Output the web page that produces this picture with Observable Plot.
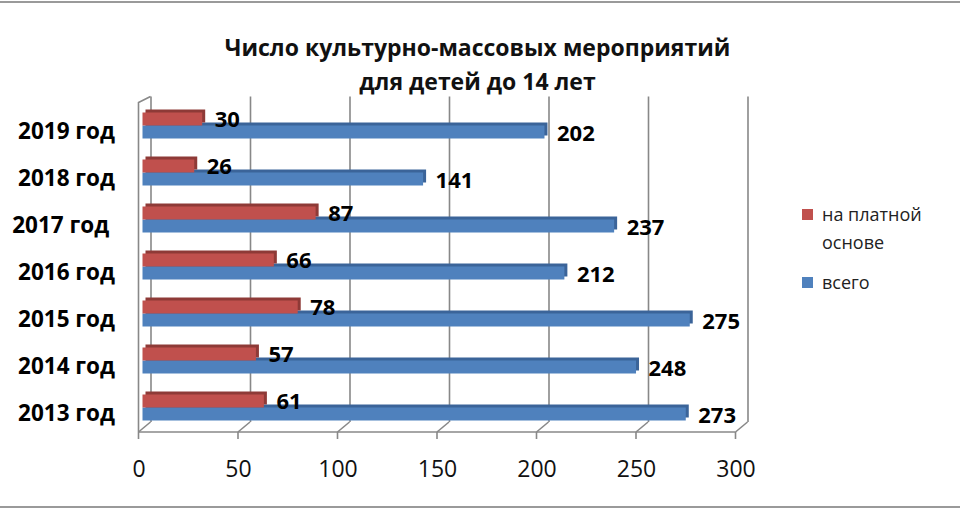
<!DOCTYPE html>
<html><head><meta charset="utf-8">
<script src="https://cdn.jsdelivr.net/npm/d3@7"></script>
<script src="https://cdn.jsdelivr.net/npm/@observablehq/plot@0.6"></script>
<style>
body{margin:0;background:#fff;}
#wrap{position:relative;width:960px;height:510px;overflow:hidden;font-family:"Open Sans",sans-serif;}
.hline{position:absolute;left:0;width:960px;height:2px;background:#9a9a9a;z-index:5;}
#title{position:absolute;left:0;top:30px;width:955px;text-align:center;font-weight:700;font-size:23px;line-height:34px;color:#111;}
#chart{position:absolute;left:0;top:90px;}
#legend{position:absolute;left:802px;top:200px;font-size:18px;color:#222;line-height:28px;}
.sw{display:inline-block;width:11px;height:11px;margin-right:9px;vertical-align:1px;}
.item{display:flex;align-items:flex-start;}
.item .sw{margin-top:9px;flex:none;}
</style></head>
<body><div id="wrap">
<div class="hline" style="top:1px"></div>
<div class="hline" style="top:506px"></div>
<div id="title">Число культурно-массовых мероприятий<br>для детей до 14 лет</div>
<div id="chart"></div>
<div id="legend"></div>
</div>
<script>
const years = ["2013 год","2014 год","2015 год","2016 год","2017 год ","2018 год","2019 год"];
const paid = [61,57,78,66,87,26,30];
const total = [273,248,275,212,237,141,202];
const seriesNames = ["на платной основе","всего"];
const seriesColors = ["#C0504D","#4F81BD"];
const sideColors = ["#8E3A37","#3B6499"];
const xTicks = [0,50,100,150,200,250,300];

const rows = years.map((y,i)=>({year:y, paid:paid[i], total:total[i]}));
const DX = 12, DY = -10, GRAY = "#888";

function frame(index, scales, values, dim) {
  const g = d3.create("svg:g");
  const x = scales.x;
  const yF = dim.height - dim.marginBottom - 1.5;
  const x0 = x(xTicks[0]), x1 = x(xTicks[xTicks.length-1]);
  const s = {stroke: GRAY, "stroke-width": 1.6, fill: "none"};
  const add = (d) => { const p = g.append("path").attr("d", d); for (const k in s) p.attr(k, s[k]); };
  add(`M${x0},${yF}H${x1}`);
  for (const t of xTicks) {
    const xt = x(t);
    add(`M${xt},${yF}L${xt+DX},${yF+DY}`);
    add(`M${xt},${yF}V${yF+7}`);
  }
  const topB = dim.marginTop - 8;
  add(`M${x0},${yF}V${topB - DY - 4}L${x0+DX},${topB}`);
  return g.node();
}

const band = (420 - 14.5 - 76.5) / years.length;
const half = band / 2, bh = 13;

const chart = Plot.plot({
  width: 960, height: 420,
  marginLeft: 138.5, marginRight: 224.5, marginTop: 14.5, marginBottom: 76.5,
  style: {fontFamily: "'Open Sans', sans-serif", background: "transparent", overflow: "visible"},
  x: {domain: [0, 300], ticks: xTicks, tickSize: 0, tickPadding: 27, tickFormat: d => String(d), label: null},
  y: {domain: [...years].reverse(), padding: 0, tickSize: 0, tickPadding: 24, label: null},
  marks: [
    frame,
    Plot.ruleX(xTicks, {x: d => d, dx: DX, dy: DY, insetTop: 2, insetBottom: 1.5, stroke: GRAY, strokeWidth: 1.6}),
    // blue (всего)
    Plot.barX(rows, {x: "total", y: "year", fill: sideColors[1], insetTop: half, insetBottom: half - bh, dx: 7, dy: -6}),
    Plot.barX(rows, {x: "total", y: "year", fill: seriesColors[1], insetTop: half, insetBottom: half - bh, dx: 4, dy: -3}),
    // red (на платной основе)
    Plot.barX(rows, {x: "paid", y: "year", fill: sideColors[0], insetTop: half - bh, insetBottom: half, dx: 7, dy: -6}),
    Plot.barX(rows, {x: "paid", y: "year", fill: seriesColors[0], insetTop: half - bh, insetBottom: half, dx: 4, dy: -3}),
    Plot.text(rows, {x: "paid", y: "year", text: d => String(d.paid), dx: 16, dy: -3 - bh/2, textAnchor: "start", fontWeight: "bold", fontSize: 22, fill: "#000"}),
    Plot.text(rows, {x: "total", y: "year", text: d => String(d.total), dx: 16, dy: -3 + bh/2 + 1, textAnchor: "start", fontWeight: "bold", fontSize: 22, fill: "#000"})
  ]
});
d3.select(chart).selectAll("[aria-label^='x-axis'] text").style("font-size", "23px").style("fill", "#111");
const yAx = d3.select(chart).select("[aria-label='y-axis tick label']");
yAx.attr("font-size", 22.5).attr("font-weight", "bold").attr("fill", "#000").style("white-space", "pre");
yAx.attr("transform", (yAx.attr("transform") || "") + " translate(0,3)");
document.getElementById("chart").appendChild(chart);

const leg = document.getElementById("legend");
seriesNames.forEach((n,i) => {
  const it = document.createElement("div");
  it.className = "item";
  it.style.marginBottom = i === 0 ? "12px" : "0";
  it.innerHTML = `<span class="sw" style="background:${seriesColors[i]}"></span><span style="width:110px">${n}</span>`;
  leg.appendChild(it);
});
</script></body></html>
